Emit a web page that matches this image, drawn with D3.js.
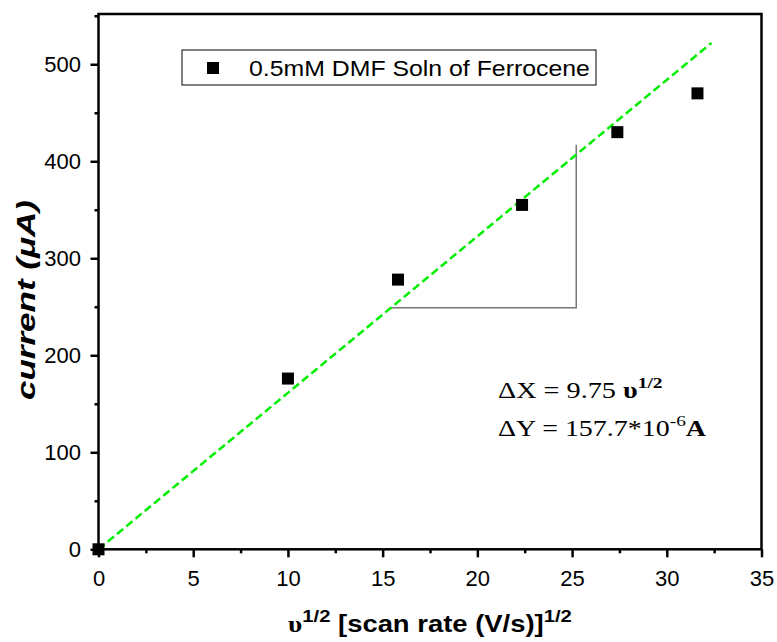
<!DOCTYPE html>
<html><head><meta charset="utf-8">
<script src="https://cdn.jsdelivr.net/npm/d3@7"></script>
<style>body{margin:0;background:#fff}</style>
</head><body>
<svg id="c" width="777" height="642"></svg>
<script>
const xValues = [0, 10, 15.81, 22.36, 27.39, 31.62];
const yValues = [0, 176, 278, 355, 430, 470];
const fitX = [0, 32.36];
const fitY = [0, 522];
const triX = [15.43, 25.22, 25.22];
const triY = [249, 249, 417];
const xTicks = [0, 5, 10, 15, 20, 25, 30, 35];
const yTicks = [0, 100, 200, 300, 400, 500];
const legendLabel = "0.5mM DMF Soln of Ferrocene";

const svg = d3.select("#c");
const L = 98.5, R = 761.5, T = 14, B = 549.3;
const x = d3.scaleLinear().domain([0, 35]).range([L, R]);
const y = d3.scaleLinear().domain([0, 551.8]).range([B, T]);
const sans = "'Liberation Sans', Arial, sans-serif";
const serif = "'Liberation Serif', 'Times New Roman', serif";

function fitWidth(sel, target) {
  const w = sel.node().getBBox().width;
  const tx = +sel.attr("x"), ty = +sel.attr("y");
  sel.attr("x", 0).attr("y", 0)
    .attr("transform", `translate(${tx},${ty}) scale(${target / w},1)`);
}

// frame
svg.append("rect").attr("x", L).attr("y", T).attr("width", R - L).attr("height", B - T)
  .attr("fill", "none").attr("stroke", "#000").attr("stroke-width", 2.5);

// axes
const xAxis = svg.append("g").attr("transform", `translate(0,${B})`)
  .call(d3.axisBottom(x).tickValues(xTicks).tickSize(8).tickPadding(13).tickFormat(d3.format("d")));
const xMinor = svg.append("g").attr("transform", `translate(0,${B})`)
  .call(d3.axisBottom(x).tickValues(xTicks.slice(0, -1).map(d => d + 2.5)).tickSize(4).tickFormat(""));
const yAxis = svg.append("g").attr("transform", `translate(${L},0)`)
  .call(d3.axisLeft(y).tickValues(yTicks).tickSize(8).tickPadding(9.5).tickFormat(d3.format("d")));
const yMinor = svg.append("g").attr("transform", `translate(${L},0)`)
  .call(d3.axisLeft(y).tickValues(yTicks.map(d => d + 50)).tickSize(4).tickFormat(""));
[xAxis, xMinor, yAxis, yMinor].forEach(g => {
  g.select(".domain").remove();
  g.selectAll("line").attr("stroke", "#000").attr("stroke-width", 2.5);
  g.selectAll("text").attr("font-family", sans).attr("font-size", 22).attr("fill", "#000");
});

// triangle guide
svg.append("path")
  .attr("d", d3.line().x(d => x(d[0])).y(d => y(d[1]))(triX.map((v, i) => [v, triY[i]])))
  .attr("fill", "none").attr("stroke", "#777").attr("stroke-width", 1.5);

// fit line
svg.append("line").attr("x1", x(fitX[0])).attr("y1", y(fitY[0]))
  .attr("x2", x(fitX[1])).attr("y2", y(fitY[1]))
  .attr("stroke", "#00ee00").attr("stroke-width", 2.5).attr("stroke-dasharray", "8,4");

// points
const s = 12;
svg.append("g").selectAll("rect").data(xValues.map((v, i) => [v, yValues[i]])).join("rect")
  .attr("x", d => x(d[0]) - s / 2).attr("y", d => y(d[1]) - s / 2)
  .attr("width", s).attr("height", s).attr("fill", "#000");

// legend
svg.append("rect").attr("x", 182).attr("y", 50).attr("width", 414).attr("height", 35)
  .attr("fill", "#fff").attr("stroke", "#000").attr("stroke-width", 1);
svg.append("rect").attr("x", 213 - 6).attr("y", 68 - 6).attr("width", 12).attr("height", 12).attr("fill", "#000");
const lt = svg.append("text").attr("x", 249).attr("y", 76).attr("font-family", sans)
  .attr("font-size", 21.5).text(legendLabel);
fitWidth(lt, 341);

// annotation
const a1 = svg.append("text").attr("x", 498).attr("y", 398).attr("font-family", serif).attr("font-size", 22.5);
a1.append("tspan").text("ΔX = 9.75 ");
a1.append("tspan").attr("font-weight", "bold").text("υ");
a1.append("tspan").attr("font-weight", "bold").attr("font-size", 15.5).attr("dy", -10).text("1/2");
fitWidth(a1, 165);
const a2 = svg.append("text").attr("x", 498).attr("y", 436).attr("font-family", serif).attr("font-size", 22.5);
a2.append("tspan").text("ΔY = 157.7*10");
a2.append("tspan").attr("font-size", 15.5).attr("dy", -10).text("-6");
a2.append("tspan").attr("font-weight", "bold").attr("dy", 10).text("A");
fitWidth(a2, 209);

// axis titles
const xt = svg.append("text").attr("x", 288).attr("y", 632)
  .attr("font-family", sans).attr("font-weight", "bold").attr("font-size", 23);
xt.append("tspan").attr("font-family", serif).text("υ");
xt.append("tspan").attr("font-size", 17).attr("dy", -10).text("1/2");
xt.append("tspan").attr("dy", 10).text(" [scan rate (V/s)]");
xt.append("tspan").attr("font-size", 17).attr("dy", -10).text("1/2");
fitWidth(xt, 284);

const yt = svg.append("text").attr("x", 0).attr("y", 0).attr("text-anchor", "middle")
  .attr("font-family", sans).attr("font-weight", "bold")
  .attr("font-style", "italic").attr("font-size", 25).text("current (μA)");
const yw = yt.node().getBBox().width;
yt.attr("transform", `translate(35,300) rotate(-90) scale(${200 / yw},1)`);
</script>
</body></html>
